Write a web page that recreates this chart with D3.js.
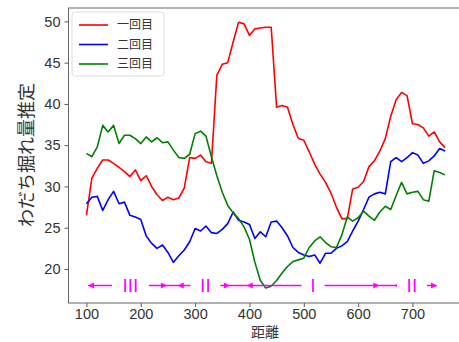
<!DOCTYPE html>
<html>
<head>
<meta charset="utf-8">
<script src="https://cdn.jsdelivr.net/npm/d3@7"></script>
<style>
  body { margin: 0; background: #fff; }
  svg { display: block; font-family: "DejaVu Sans", sans-serif; }
</style>
</head>
<body>
<svg id="chart" width="459" height="342"></svg>
<script>
// ── Data ──────────────────────────────────────────────────────────────────
const distance = d3.range(100, 761, 10);

const run1 = [26.5, 31.0, 32.2, 33.2, 33.2, 32.8, 32.3, 31.8, 31.2, 32.0,
  30.7, 31.3, 30.0, 29.0, 28.3, 28.7, 28.4, 28.6, 29.8, 33.5,
  33.4, 33.8, 33.0, 32.8, 43.5, 44.8, 45.0, 47.5, 49.9, 49.7,
  48.3, 49.1, 49.2, 49.3, 49.3, 39.6, 39.8, 39.6, 37.5, 35.8,
  35.6, 34.2, 32.7, 31.5, 30.5, 29.2, 27.5, 26.1, 26.1, 29.7,
  29.9, 30.6, 32.4, 33.1, 34.3, 35.8, 38.5, 40.5, 41.4, 41.0,
  37.6, 37.5, 37.1, 36.1, 36.6, 35.4, 34.7];

const run2 = [27.9, 28.7, 28.8, 27.1, 28.4, 29.4, 27.9, 28.1, 26.5, 26.3,
  26.0, 24.0, 23.1, 22.5, 22.9, 22.0, 20.8, 21.6, 22.3, 23.3,
  24.9, 24.6, 25.2, 24.4, 24.3, 24.8, 25.5, 26.9, 25.9, 25.7,
  25.4, 23.7, 24.5, 23.9, 25.7, 25.8, 25.0, 24.0, 22.6, 22.0,
  21.7, 21.5, 21.7, 20.7, 21.9, 21.9, 22.5, 22.8, 23.3, 24.6,
  25.8, 27.2, 28.7, 29.1, 29.3, 29.1, 33.0, 33.5, 33.0, 33.5,
  34.1, 33.8, 32.8, 33.1, 33.7, 34.6, 34.3];

const run3 = [34.0, 33.6, 34.8, 37.4, 36.6, 37.4, 35.2, 36.2, 36.2, 35.8,
  35.2, 36.0, 35.4, 35.9, 35.3, 35.4, 34.4, 33.5, 33.4, 33.9,
  36.4, 36.7, 36.1, 33.6, 31.3, 29.3, 27.7, 26.8, 26.1, 25.1,
  23.6, 20.8, 18.6, 17.7, 17.9, 18.6, 19.5, 20.3, 20.9, 21.1,
  21.3, 22.6, 23.4, 23.9, 23.2, 22.7, 22.6, 24.1, 26.3, 25.8,
  26.2, 27.0, 26.4, 25.9, 26.9, 27.6, 27.2, 28.9, 30.5, 29.1,
  29.3, 29.4, 28.4, 28.2, 31.9, 31.7, 31.4];

const seriesNames = ['一回目', '二回目', '三回目'];
const seriesColors = ['#ff0000', '#0000ff', '#008000'];

// section annotations (roman numerals) at y = 18
const sectionLabels = ['III', 'II', 'I', 'II'];
const sectionCenters = [181, 319, 517, 699];
const arrowY = 18;
const arrowStart = 103, arrowEnd = 745;
const arrowHeads = [[103, -1], [248, 1], [268, -1], [364, 1], [395, -1], [639, 1], [666, -1], [745, 1]];

const xTicks = [100, 200, 300, 400, 500, 600, 700];
const yTicks = [20, 25, 30, 35, 40, 45, 50];

// ── Layout ────────────────────────────────────────────────────────────────
const svg = d3.select('#chart');
const plotLeft = 68.5, plotRight = 463, plotTop = 8, plotBottom = 303;

const x = d3.scaleLinear().domain([67, 793]).range([plotLeft, plotRight]);
const y = d3.scaleLinear().domain([15.875, 51.625]).range([plotBottom, plotTop]);

// ── Axes ──────────────────────────────────────────────────────────────────
const xAxis = svg.append('g')
  .attr('transform', `translate(0,${plotBottom})`)
  .call(d3.axisBottom(x).tickValues(xTicks).tickSize(4).tickPadding(2));
const yAxis = svg.append('g')
  .attr('transform', `translate(${plotLeft},0)`)
  .call(d3.axisLeft(y).tickValues(yTicks).tickSize(4).tickPadding(4));

[xAxis, yAxis].forEach(function (g) {
  g.select('.domain').remove();
  g.selectAll('.tick line').attr('stroke', '#555');
  g.selectAll('.tick text').attr('font-size', 14.5).attr('fill', '#333');
});

// spines (right one falls outside the crop)
svg.append('rect')
  .attr('x', plotLeft).attr('y', plotTop)
  .attr('width', plotRight - plotLeft).attr('height', plotBottom - plotTop)
  .attr('fill', 'none').attr('stroke', '#666').attr('stroke-width', 1);

// ── Lines ─────────────────────────────────────────────────────────────────
const line = d3.line()
  .x(function (d, i) { return x(distance[i]); })
  .y(function (d) { return y(d); });

[run1, run2, run3].forEach(function (vals, i) {
  svg.append('path')
    .datum(vals)
    .attr('fill', 'none')
    .attr('stroke', seriesColors[i])
    .attr('stroke-width', 1.6)
    .attr('stroke-linejoin', 'round')
    .attr('d', line);
});

// ── Section arrows ────────────────────────────────────────────────────────
const magenta = '#ff00ff';
const ay = y(arrowY);
svg.append('line')
  .attr('x1', x(arrowStart)).attr('x2', x(arrowEnd))
  .attr('y1', ay).attr('y2', ay)
  .attr('stroke', magenta).attr('stroke-width', 1.5);

svg.selectAll('path.head')
  .data(arrowHeads)
  .join('path')
    .attr('class', 'head')
    .attr('fill', magenta)
    .attr('d', function (d) {
      const px = x(d[0]), s = d[1];
      return `M${px},${ay}L${px - s * 6},${ay - 3}L${px - s * 6},${ay + 3}Z`;
    });

const labels = svg.selectAll('g.sec')
  .data(sectionLabels)
  .join('g')
    .attr('class', 'sec')
    .attr('transform', function (d, i) { return `translate(${x(sectionCenters[i])},${ay})`; });

labels.append('rect')
  .attr('x', function (d) { return -d.length * 3.5 - 8; })
  .attr('y', -9)
  .attr('width', function (d) { return d.length * 7 + 16; })
  .attr('height', 18)
  .attr('fill', '#fff');

labels.append('text')
  .attr('text-anchor', 'middle')
  .attr('dy', '0.36em')
  .attr('font-family', '"DejaVu Sans", sans-serif')
  .attr('font-size', 18)
  .attr('fill', magenta)
  .text(function (d) { return d; });

// ── Legend ────────────────────────────────────────────────────────────────
const legend = svg.append('g').attr('transform', 'translate(72,12)');
legend.append('rect')
  .attr('width', 92).attr('height', 64).attr('rx', 3)
  .attr('fill', '#fff').attr('fill-opacity', 0.8)
  .attr('stroke', '#ddd');

seriesNames.forEach(function (name, i) {
  const ly = 13 + i * 19.5;
  legend.append('line')
    .attr('x1', 7).attr('x2', 36).attr('y1', ly).attr('y2', ly)
    .attr('stroke', seriesColors[i]).attr('stroke-width', 1.6);
  legend.append('text')
    .attr('x', 45).attr('y', ly).attr('dy', '0.36em')
    .attr('font-family', '"Noto Sans CJK JP", sans-serif')
    .attr('font-size', 12).attr('fill', '#333')
    .text(name);
});

// ── Axis titles ───────────────────────────────────────────────────────────
svg.append('text')
  .attr('x', 265).attr('y', 337)
  .attr('text-anchor', 'middle')
  .attr('font-family', '"Noto Sans CJK JP", sans-serif')
  .attr('font-size', 14).attr('fill', '#333')
  .text('距離');

svg.append('text')
  .attr('transform', 'translate(33,155) rotate(-90)')
  .attr('text-anchor', 'middle')
  .attr('font-family', '"Noto Sans CJK JP", sans-serif')
  .attr('font-size', 18).attr('fill', '#333')
  .text('わだち掘れ量推定');
</script>
</body>
</html>
